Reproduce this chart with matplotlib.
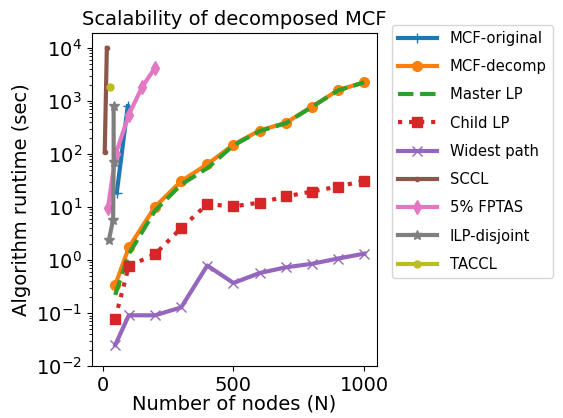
import numpy as np
import matplotlib.pyplot as plt

# node counts for the main sweep
nodes = [48, 100, 200, 300, 400, 500, 600, 700, 800, 900, 1000]

mcf_decomp = [0.336, 1.73, 10.1, 30.7, 64, 150, 277, 387, 777, 1600, 2240]
master_lp = [0.22, 1.3, 8.5, 26.5, 54, 145, 270, 380, 770, 1580, 2240]
child_lp = [0.079, 0.77, 1.29, 4.0, 11.3, 10.3, 12.1, 15.8, 19.6, 24.3, 31.4]
widest_path = [0.025, 0.091, 0.091, 0.128, 0.79, 0.37, 0.57, 0.73, 0.85, 1.07, 1.32]

# baselines that only ran on small graphs
mcf_orig_nodes = [54, 96]
mcf_orig = [18.6, 800]
sccl_nodes = [8, 16]
sccl = [108, 10000]
fptas_nodes = [20, 50, 100, 150, 200]
fptas = [9.4, 100, 550, 1800, 4200]
ilp_nodes = [24, 40, 42, 42]
ilp = [2.4, 5.8, 72, 800]
taccl_nodes = [28]
taccl = [1800]

fig = plt.figure(figsize=(5.63, 4.18), dpi=100)
ax = fig.add_subplot(111)
fig.subplots_adjust(left=0.163, right=0.67, top=0.921, bottom=0.124)

lw = 3
ax.plot(mcf_orig_nodes, mcf_orig, marker='+', lw=lw, ms=7, label='MCF-original')
ax.plot(nodes, mcf_decomp, marker='o', lw=lw, ms=7, label='MCF-decomp')
ax.plot(nodes, master_lp, ls='--', lw=lw, label='Master LP')
ax.plot(nodes, child_lp, ls=':', marker='s', lw=lw, ms=7, label='Child LP')
ax.plot(nodes, widest_path, marker='x', lw=lw, ms=7, label='Widest path')
ax.plot(sccl_nodes, sccl, marker='.', lw=lw, label='SCCL')
ax.plot(fptas_nodes, fptas, marker='d', lw=lw, ms=7, label='5% FPTAS')
ax.plot(ilp_nodes, ilp, marker='*', lw=lw, ms=7, label='ILP-disjoint')
ax.plot(taccl_nodes, taccl, marker='.', ms=10, lw=lw, label='TACCL')

ax.set_yscale('log')
ax.set_ylim(bottom=1e-2)
ax.set_xticks([0, 500, 1000])
ax.tick_params(labelsize=14)
ax.set_xlabel('Number of nodes (N)', fontsize=14, labelpad=0)
ax.set_ylabel('Algorithm runtime (sec)', fontsize=14)
ax.set_title('Scalability of decomposed MCF', fontsize=14)
ax.legend(loc='upper left', bbox_to_anchor=(0.684, 0.958),
          bbox_transform=fig.transFigure, fontsize=10.6, labelspacing=0.9,
          handlelength=2.6, handletextpad=0.9)

fig.savefig('out.png', dpi=100)
